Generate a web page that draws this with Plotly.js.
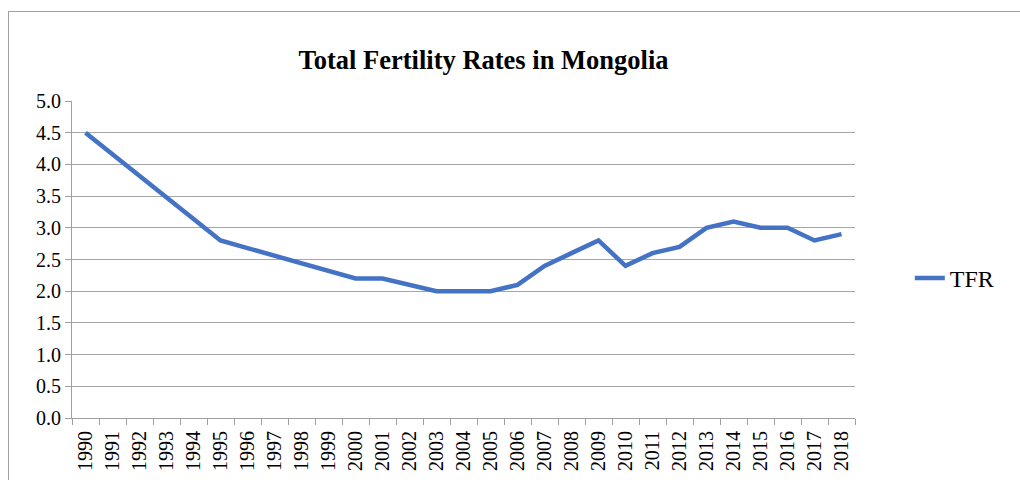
<!DOCTYPE html>
<html>
<head>
<meta charset="utf-8">
<script src="https://cdn.plot.ly/plotly-3.0.1.min.js"></script>
<style>
  html, body { margin: 0; padding: 0; background: #ffffff; }
  #wrap { position: relative; width: 1020px; height: 480px; overflow: hidden; }
  #chart { position: absolute; left: 0; top: 0; width: 1020px; height: 480px; }
  #frame { position: absolute; left: 8px; top: 11px; width: 1100px; height: 600px;
           border: 1px solid #a0a0a0; pointer-events: none; box-sizing: border-box; }
</style>
</head>
<body>
<div id="wrap">
  <div id="chart"></div>
  <div id="frame"></div>
</div>
<script>
// Data
const years = ['1990','1991','1992','1993','1994','1995','1996','1997','1998','1999',
               '2000','2001','2002','2003','2004','2005','2006','2007','2008','2009',
               '2010','2011','2012','2013','2014','2015','2016','2017','2018'];
const tfr = [4.5, 4.16, 3.82, 3.48, 3.14, 2.8, 2.68, 2.56, 2.44, 2.32,
             2.2, 2.2, 2.1, 2.0, 2.0, 2.0, 2.1, 2.4, 2.6, 2.8,
             2.4, 2.6, 2.7, 3.0, 3.1, 3.0, 3.0, 2.8, 2.9];
const seriesName = 'TFR';
const chartTitle = 'Total Fertility Rates in Mongolia';
const yTicks = [0, 0.5, 1, 1.5, 2, 2.5, 3, 3.5, 4, 4.5, 5];

const serif = 'Liberation Serif, Times New Roman, serif';

const trace = {
  type: 'scatter',
  mode: 'lines',
  x: years,
  y: tfr,
  name: seriesName,
  line: { color: '#4472C4', width: 4.5 },
  showlegend: true
};

const layout = {
  width: 1020,
  height: 480,
  paper_bgcolor: 'rgba(0,0,0,0)',
  plot_bgcolor: '#ffffff',
  margin: { l: 72, r: 165, t: 101, b: 62 },
  title: {
    text: '<b>' + chartTitle + '</b>',
    font: { family: serif, size: 26.5, color: '#000000' },
    x: 483.5 / 1020, xanchor: 'center', xref: 'container',
    y: 1 - 60 / 480, yanchor: 'middle', yref: 'container'
  },
  xaxis: {
    type: 'category',
    tickson: 'boundaries',
    ticks: 'outside',
    ticklen: 6,
    tickcolor: '#a0a0a0',
    tickwidth: 1,
    showline: true,
    linecolor: '#a0a0a0',
    linewidth: 1,
    showgrid: false,
    tickangle: -90,
    ticklabelstandoff: 4,
    tickfont: { family: serif, size: 20, color: '#000000' },
    range: [-0.5, years.length - 0.5],
    fixedrange: true
  },
  yaxis: {
    range: [0, 5],
    tickvals: yTicks,
    ticktext: yTicks.map(v => v.toFixed(1)),
    ticks: 'outside',
    ticklen: 6,
    tickcolor: '#a0a0a0',
    showline: true,
    linecolor: '#a0a0a0',
    linewidth: 1,
    showgrid: true,
    gridcolor: '#a6a6a6',
    gridwidth: 1.2,
    zeroline: false,
    tickfont: { family: serif, size: 20, color: '#000000' },
    fixedrange: true
  },
  legend: {
    x: 1.07, xanchor: 'left',
    y: 0.44, yanchor: 'middle',
    font: { family: serif, size: 24, color: '#000000' },
    bgcolor: 'rgba(0,0,0,0)'
  },
  showlegend: true
};

Plotly.newPlot('chart', [trace], layout, { displayModeBar: false, staticPlot: true });
</script>
</body>
</html>
